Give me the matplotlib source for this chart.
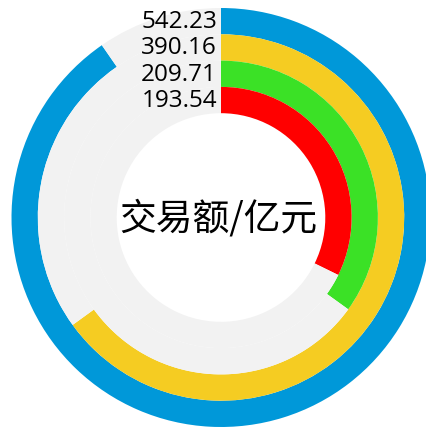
import matplotlib.pyplot as plt

plt.rcParams['font.family'] = ['Noto Sans CJK SC', 'DejaVu Sans']

labels = ['542.23', '390.16', '209.71', '193.54']
values = [542.23, 390.16, 209.71, 193.54]
colors = ['#0098d9', '#f5cc22', '#3be126', '#ff0000']
full = 600
track = '#f2f2f2'

fig = plt.figure(figsize=(4.27, 4.28), dpi=100)
ax = fig.add_axes([0, 0, 1, 1])

cx, cy = 221, 210.5
r_out = 209.5
w = 26.3

for i, (v, c) in enumerate(zip(values, colors)):
    r = r_out - i * w
    ax.pie([v, full - v], radius=r, center=(cx, cy), startangle=90,
           counterclock=False, colors=[c, track],
           wedgeprops=dict(width=w, linewidth=0))
    ax.text(cx - 4, cy + r - w / 2 - 1, labels[i], ha='right', va='center',
            fontsize=17.5, family=['Open Sans', 'DejaVu Sans'], color='black')

ax.text(cx - 3, cy - 1, '交易额/亿元', ha='center', va='center', fontsize=26.5,
        color='black')

ax.set_xlim(0, 427)
ax.set_ylim(0, 428)
ax.set_aspect('equal')
ax.axis('off')

fig.savefig('out.png', dpi=100)
